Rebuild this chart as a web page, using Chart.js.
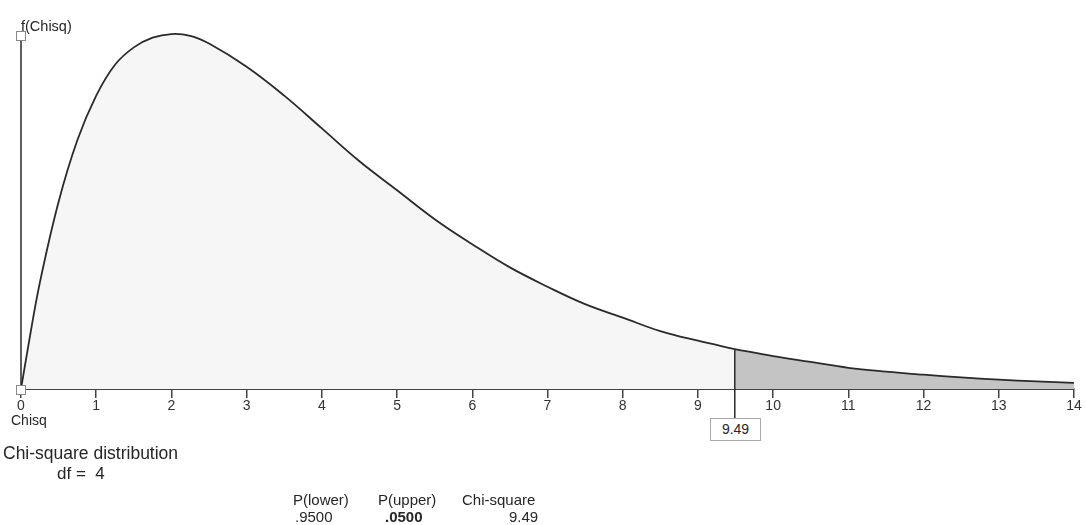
<!DOCTYPE html>
<html>
<head>
<meta charset="utf-8">
<script src="https://cdn.jsdelivr.net/npm/chart.js@4/dist/chart.umd.min.js"></script>
<style>
  html, body { margin: 0; padding: 0; background: #fff; }
  #wrap { position: relative; width: 1086px; height: 525px; overflow: hidden; font-family: "Liberation Sans", Arial, sans-serif; color: #262626; }
  #c { position: absolute; left: 0; top: 0; }
  .t { position: absolute; white-space: pre; font-size: 14px; line-height: 16px; }
  .s { font-size: 15px; line-height: 17px; }
  #critBox { position: absolute; border: 1px solid #aaa; background: #fff; font-size: 14px; line-height: 20px; text-align: center; width: 49px; height: 21px; }
</style>
</head>
<body>
<div id="wrap">
  <canvas id="c" width="1086" height="525"></canvas>
  <div class="t" style="left:21px;top:18px;font-size:14.5px;">f(Chisq)</div>
  <div class="t" style="left:11px;top:412px;">Chisq</div>
  <div class="t" style="left:3px;top:443px;font-size:17.5px;line-height:20px;">Chi-square distribution</div>
  <div class="t" style="left:57px;top:464px;font-size:17px;line-height:20px;">df =  4</div>
  <div class="t s" style="left:293px;top:491px;">P(lower)</div>
  <div class="t s" style="left:295px;top:508px;">.9500</div>
  <div class="t s" style="left:378px;top:491px;">P(upper)</div>
  <div class="t s" style="left:385px;top:508px;font-weight:bold;">.0500</div>
  <div class="t s" style="left:462px;top:491px;">Chi-square</div>
  <div class="t s" style="left:509px;top:508px;">9.49</div>
  <div id="critBox">9.49</div>
</div>
<script>
// Values
const chiX    = [0, 0.1, 0.25, 0.5, 0.75, 1, 1.25, 1.5, 1.75, 2, 2.25, 2.5, 3, 3.5, 4, 4.5, 5, 5.5, 6, 6.5, 7, 7.5, 8, 8.5, 9, 9.49, 10, 10.5, 11, 11.5, 12, 12.5, 13, 13.5, 14];
const density = [0, 0.023, 0.055, 0.097, 0.129, 0.152, 0.168, 0.177, 0.182, 0.1839, 0.183, 0.179, 0.167, 0.152, 0.135, 0.118, 0.103, 0.088, 0.075, 0.063, 0.053, 0.044, 0.037, 0.030, 0.025, 0.0207, 0.017, 0.014, 0.011, 0.009, 0.0074, 0.006, 0.0049, 0.0039, 0.0032];
const critical = 9.49;
const xTicks = [0, 1, 2, 3, 4, 5, 6, 7, 8, 9, 10, 11, 12, 13, 14];

const lowerPts = [], upperPts = [];
chiX.forEach((x, i) => {
  if (x <= critical) lowerPts.push({x: x, y: density[i]});
  if (x >= critical) upperPts.push({x: x, y: density[i]});
});

const decor = {
  id: 'decor',
  afterDatasetsDraw(chart) {
    const ctx = chart.ctx, xs = chart.scales.x, ys = chart.scales.y, a = chart.chartArea;
    const cx = xs.getPixelForValue(critical);
    const cy = ys.getPixelForValue(density[chiX.indexOf(critical)]);
    const topY = a.top + 6;
    ctx.save();
    ctx.strokeStyle = '#2a2a2a';
    ctx.lineWidth = 1.5;
    ctx.beginPath();
    ctx.moveTo(cx, cy);
    ctx.lineTo(cx, a.bottom + 30);
    ctx.stroke();
    const lx = xs.getPixelForValue(0);
    ctx.beginPath();
    ctx.moveTo(lx, topY);
    ctx.lineTo(lx, a.bottom);
    ctx.stroke();
    ctx.fillStyle = '#fff';
    ctx.strokeStyle = '#888';
    ctx.lineWidth = 1;
    [topY, a.bottom + 1].forEach(yy => {
      ctx.fillRect(lx - 4.5, yy - 4.5, 9, 9);
      ctx.strokeRect(lx - 4.5, yy - 4.5, 9, 9);
    });
    ctx.restore();
    const box = document.getElementById('critBox');
    box.style.left = Math.round(cx - 25) + 'px';
    box.style.top = Math.round(a.bottom + 29) + 'px';
  }
};

new Chart(document.getElementById('c'), {
  type: 'line',
  data: {
    datasets: [
      { data: lowerPts, borderColor: '#2a2a2a', borderWidth: 1.8, backgroundColor: '#f6f6f6', fill: 'origin', pointRadius: 0, tension: 0.4 },
      { data: upperPts, borderColor: '#2a2a2a', borderWidth: 1.8, backgroundColor: '#c4c4c4', fill: 'origin', pointRadius: 0, tension: 0.4 }
    ]
  },
  options: {
    responsive: false,
    animation: false,
    events: [],
    layout: { padding: { left: 21, right: 12, top: 30, bottom: 106 } },
    plugins: { legend: { display: false }, tooltip: { enabled: false } },
    scales: {
      x: {
        type: 'linear', min: 0, max: 14,
        afterFit(s) { s.height = 30; },
        afterBuildTicks(s) { s.ticks = xTicks.map(v => ({value: v})); },
        ticks: { autoSkip: false, maxRotation: 0, padding: 0, color: '#333', font: { family: '"Liberation Sans", Arial, sans-serif', size: 14 } },
        grid: { display: true, drawOnChartArea: false, drawTicks: true, tickLength: 9, color: '#444', lineWidth: 1.5 },
        border: { display: true, color: '#444', width: 2 }
      },
      y: { display: false, min: 0, max: 0.186 }
    }
  },
  plugins: [decor]
});
</script>
</body>
</html>
